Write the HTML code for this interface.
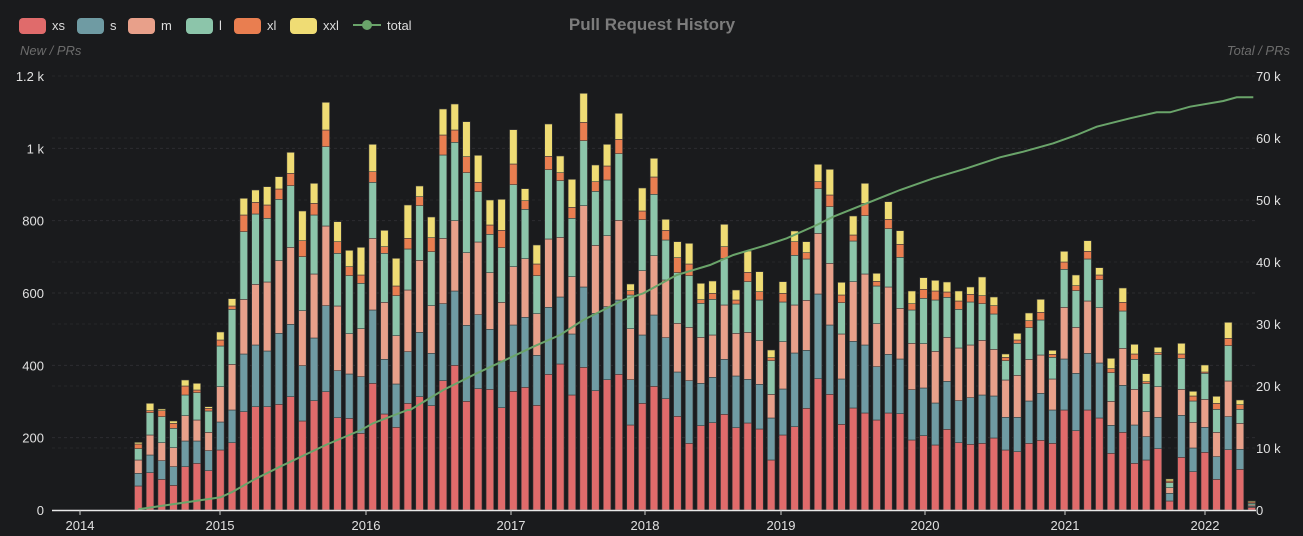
<!DOCTYPE html>
<html><head><meta charset="utf-8"><style>
html,body{margin:0;padding:0;background:#1a1b1d;}
svg{display:block;font-family:"Liberation Sans",sans-serif;}
</style></head><body>
<svg id="c" width="1303" height="536" xmlns="http://www.w3.org/2000/svg">
<rect width="1303" height="536" fill="#1a1b1d"/>
<g id="grid"></g>
<text x="652" y="30" text-anchor="middle" font-size="17" font-weight="bold" fill="#7c7c7c">Pull Request History</text>
<g font-size="13" fill="#dddddd">
<rect x="19" y="18" width="27" height="16" rx="4" fill="#e06b6b"/><text x="52" y="30">xs</text>
<rect x="77" y="18" width="27" height="16" rx="4" fill="#6f9ba3"/><text x="110" y="30">s</text>
<rect x="128" y="18" width="27" height="16" rx="4" fill="#e8a08a"/><text x="161" y="30">m</text>
<rect x="186" y="18" width="27" height="16" rx="4" fill="#8cc5aa"/><text x="219" y="30">l</text>
<rect x="234" y="18" width="27" height="16" rx="4" fill="#e97e50"/><text x="267" y="30">xl</text>
<rect x="290" y="18" width="27" height="16" rx="4" fill="#efdc74"/><text x="323" y="30">xxl</text>
<line x1="353" y1="25" x2="381" y2="25" stroke="#6aa46a" stroke-width="2"/><circle cx="367" cy="25" r="5" fill="#6aa46a"/><text x="387" y="30">total</text>
</g>
<text x="20" y="55" font-size="13" font-style="italic" fill="#6c6c6c">New / PRs</text>
<text x="1290" y="55" font-size="13" font-style="italic" fill="#6c6c6c" text-anchor="end">Total / PRs</text>
<g id="ylab" font-size="13" fill="#e0e0e0"></g>
<g id="bars"></g>
<polyline id="tot" fill="none" stroke="#6aa46a" stroke-width="2"/>
<line x1="52" y1="510.5" x2="1256" y2="510.5" stroke="#e8e8e8" stroke-width="1.5"/>
<g id="xlab" font-size="13" fill="#e0e0e0" text-anchor="middle"></g>
</svg>
<script>
var ns="http://www.w3.org/2000/svg";
function el(t,a,p,txt){var e=document.createElementNS(ns,t);for(var k in a)e.setAttribute(k,a[k]);if(txt!=null)e.textContent=txt;p.appendChild(e);return e;}
var g=document.getElementById('grid'),yl=document.getElementById('ylab'),xl=document.getElementById('xlab'),bg=document.getElementById('bars');
var L=["0","200","400","600","800","1 k","1.2 k"],R=["0","10 k","20 k","30 k","40 k","50 k","60 k","70 k"];
for(var i=0;i<=6;i++){var y=510-i*72.33;if(i>0)el('line',{x1:52,x2:1256,y1:y,y2:y,stroke:'#2c2d30','stroke-dasharray':'3,3'},g);
el('text',{x:44,y:y+5,'text-anchor':'end'},yl,L[i]);}
for(var i=0;i<=7;i++){var y=510-i*62;if(i>0)el('line',{x1:52,x2:1256,y1:y,y2:y,stroke:'#262729','stroke-dasharray':'3,3'},g);
el('text',{x:1256,y:y+5},yl,R[i]);}
var yrs=[[80,2014],[220,2015],[366,2016],[511,2017],[645,2018],[781,2019],[925,2020],[1065,2021],[1205,2022]];
yrs.forEach(function(p){el('line',{x1:p[0],x2:p[0],y1:510,y2:515,stroke:'#ccc'},xl);el('text',{x:p[0],y:530},xl,p[1]);});
// zoom coord data: [xxlTop, xlTop, lTop, mTop, sTop, xsTop]
var z1=[[1057,1062,1076,1110,1150,1188],[940,962,968,1035,1095,1148],[957,962,980,1058,1112,1168],[993,1000,1015,1073,1130,1186],[870,888,915,977,1053,1130],[880,900,908,990,1053,1120],[950,955,963,1027,1082,1142],[726,750,768,890,996,1080],[626,648,658,823,960,1058],[325,375,425,628,792,965],[300,337,372,583,765,950],[290,345,385,576,783,950],[260,297,328,512,730,943],[187,250,287,472,703,920],[363,452,500,662,827,993],[280,340,375,552,744,932],[37,120,170,408,647,905],[395,455,490,648,842,983],[481,530,557,731,852,985],[472,555,580,716,860,1030],[163,245,277,445,660,880],[421,470,490,637,808,972],[505,588,617,737,882,1012],[345,445,477,600,785,940]];
var z2=[[318,350,377,541,757,950],[411,473,515,677,820,977],[87,165,225,475,671,902],[72,150,187,422,633,856],[125,230,278,518,736,964],[226,307,335,486,704,926],[360,435,463,578,748,928],[358,451,503,667,843,983],[149,252,314,560,735,934],[326,362,388,536,712,922],[495,552,587,701,826,976],[132,229,269,477,682,883],[228,278,302,472,651,852],[298,382,415,590,762,945],[40,127,182,377,621,862],[255,305,334,496,700,932],[193,258,300,467,680,899],[100,178,221,421,660,883],[612,632,645,746,899,1035],[324,393,419,572,765,970],[235,291,343,527,705,919],[418,451,480,600,773,956],[485,533,578,730,876,1009],[490,552,587,742,902,1090],[610,659,670,772,910,1037]];
var z3=[[393,430,448,555,682,818],[223,290,325,465,628,793],[420,450,462,550,678,833],[303,367,395,547,688,819],[365,425,450,572,703,837],[600,623,632,733,804,930],[395,430,456,575,717,855],[243,275,316,465,609,830],[275,308,327,451,601,775],[43,95,116,250,432,686],[58,135,170,340,525,733],[397,435,458,552,687,823],[198,255,273,395,574,774],[100,160,197,372,585,789],[370,394,408,521,650,810],[155,208,236,411,613,789],[242,283,322,475,627,791],[423,461,480,580,719,870],[383,418,445,581,714,857],[391,423,450,604,759,885],[396,426,442,562,694,838],[423,453,478,594,752,878],[411,433,456,585,743,883],[381,437,461,571,735,880],[441,467,492,598,738,864]];
var z4=[[822,832,842,900,1012,1110],[760,780,790,886,1012,1115],[699,722,743,838,963,1090],[658,697,720,825,940,1081],[811,823,832,897,990,1090],[514,546,568,682,837,990],[585,617,632,742,880,1052],[482,514,537,663,820,990],[563,585,599,683,849,1014],[835,866,878,964,1036,1120],[624,667,693,805,916,1057],[793,822,838,928,1035,1150],[881,905,911,995,1070,1140],[802,818,824,920,1012,1106],[1197,1203,1208,1223,1240,1263],[790,822,835,928,1006,1132],[934,948,963,1027,1104,1175],[855,876,880,958,1042,1117],[949,970,988,1057,1130,1198],[727,775,797,903,1010,1109],[960,974,988,1030,1108,1168],[1263,1266,1270,1275,1279,1282]];
var bars=[];
z1.forEach(function(a){bars.push(a.map(function(v){return 90+v/3;}));});
z2.forEach(function(a){bars.push(a.map(function(v){return 80+v/3;}));});
z3.forEach(function(a){bars.push(a.map(function(v){return 150+v/3;}));});
z4.forEach(function(a){bars.push(a.map(function(v){return 80+v/3;}));});
var cols=["#efdc74","#e97e50","#8cc5aa","#e8a08a","#6f9ba3","#e06b6b"];
var n=bars.length,x0=138.3,dx=(1251.7-138.3)/(n-1),w=7.6;
bars.forEach(function(b,i){var cx=x0+i*dx;
 for(var k=5;k>=0;k--){var top=b[k],bot=(k==5)?510:b[k+1];if(bot-top<=0)continue;
  el('rect',{x:(cx-w/2).toFixed(2),y:top.toFixed(2),width:w,height:(bot-top).toFixed(2),fill:cols[k],stroke:'#3a3a3a','stroke-width':0.6},bg);}
});
var pts=[[120,90,[[55,1258],[302,1222],[338,1205],[400,1170],[480,1130],[617,1065],[723,1020],[759,1000],[863,960]]],
[410,80,[[0,990],[100,930],[200,880],[275,845],[370,800],[450,765],[520,720],[640,660],[700,640],[800,585],[900,555]]],
[700,150,[[100,315],[200,285],[260,265],[350,225],[400,200],[500,160],[600,120],[700,85],[800,55],[900,22]]],
[990,80,[[100,215],[190,190],[260,165],[320,140],[420,115],[500,97],[540,97],[600,80],[700,63],[740,52],[790,52]]]];
var s=[];pts.forEach(function(p){p[2].forEach(function(q){s.push((p[0]+q[0]/3).toFixed(1)+','+(p[1]+q[1]/3).toFixed(1));});});
document.getElementById('tot').setAttribute('points',s.join(' '));
</script>
</body></html>
